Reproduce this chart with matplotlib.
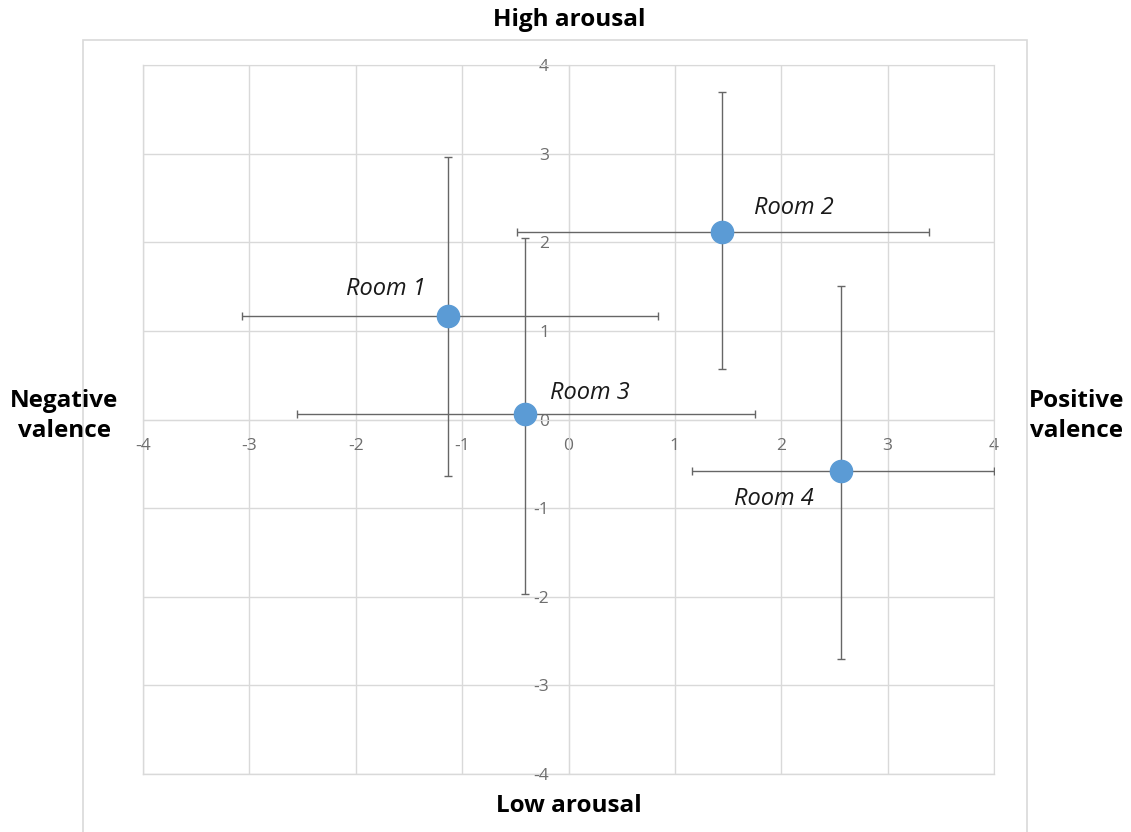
import matplotlib
matplotlib.use("Agg")
import matplotlib.pyplot as plt
from matplotlib.patches import Rectangle

rooms = ["Room 1", "Room 2", "Room 3", "Room 4"]
valence = [-1.13, 1.44, -0.41, 2.56]
arousal = [1.17, 2.12, 0.06, -0.58]
val_err_low = [1.94, 1.92, 2.14, 1.40]
val_err_high = [1.97, 1.95, 2.16, 1.44]
aro_err_low = [1.81, 1.55, 2.03, 2.12]
aro_err_high = [1.79, 1.58, 1.99, 2.09]
label_offsets = [(-45, 19), (52, 17), (47, 15), (-48, -20)]
ticks = [-4, -3, -2, -1, 0, 1, 2, 3, 4]

plt.rcParams['font.family'] = ['Open Sans', 'DejaVu Sans']

fig = plt.figure(figsize=(11.31, 8.32), dpi=100)
ax = fig.add_axes([143/1131, 58/832, 851/1131, 709/832])

grid_c = '#d9d9d9'
ax.set_xlim(-4, 4)
ax.set_ylim(-4, 4)
ax.set_xticks(ticks)
ax.set_yticks(ticks)
ax.grid(True, color=grid_c, linewidth=1)
ax.set_axisbelow(True)
ax.axhline(-4, color=grid_c, linewidth=1, clip_on=False, zorder=0.5)
ax.axvline(-4, color=grid_c, linewidth=1, clip_on=False, zorder=0.5)
for s in ['left', 'bottom']:
    ax.spines[s].set_position('zero')
    ax.spines[s].set_color(grid_c)
for s in ['top', 'right']:
    ax.spines[s].set_color(grid_c)
ax.tick_params(axis='x', length=0, pad=13, labelsize=12.5, labelcolor='#6e6e6e')
ax.tick_params(axis='y', length=0, pad=14, labelsize=12.5, labelcolor='#6e6e6e')
ax.set_xticklabels([str(t) for t in ticks])
ax.set_yticklabels([str(t) for t in ticks])

ax.errorbar(valence, arousal,
            xerr=[val_err_low, val_err_high],
            yerr=[aro_err_low, aro_err_high],
            fmt='o', color='#5b9bd5', markersize=16,
            ecolor='#666666', elinewidth=1.0, capsize=3, capthick=1.0,
            zorder=3)

for name, x, y, off in zip(rooms, valence, arousal, label_offsets):
    ax.annotate(name, (x, y), xytext=off, textcoords='offset points',
                ha='center', va='center', fontsize=17, style='italic',
                color='#1a1a1a')

fig.patches.append(Rectangle((83/1131, -0.01), (1027-83)/1131, 1-40/832+0.01,
                             transform=fig.transFigure, fill=False,
                             edgecolor=grid_c, linewidth=1.2))

fig.text(569/1131, 1-20/832, "High arousal", ha='center', va='center',
         fontsize=17.5, fontweight='bold')
fig.text(569/1131, 1-806/832, "Low arousal", ha='center', va='center',
         fontsize=17.5, fontweight='bold')
fig.text(64/1131, 1-416/832, "Negative\nvalence", ha='center', va='center',
         fontsize=17.5, fontweight='bold', linespacing=1.3)
fig.text(1077/1131, 1-416/832, "Positive\nvalence", ha='center', va='center',
         fontsize=17.5, fontweight='bold', linespacing=1.3)

fig.savefig("out.png", dpi=100)
